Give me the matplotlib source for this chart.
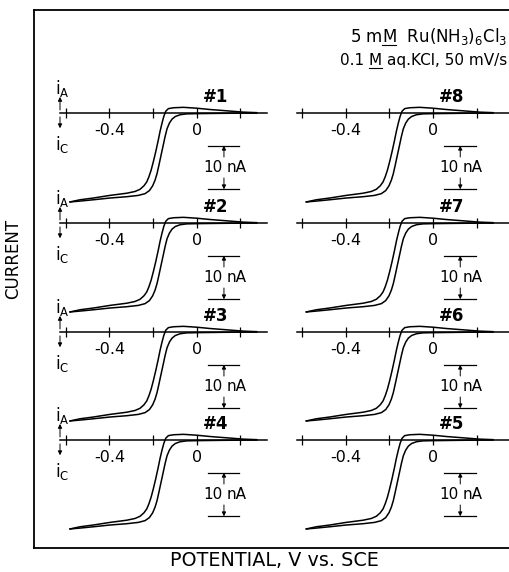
import matplotlib
matplotlib.use("Agg")
import matplotlib.pyplot as plt
from matplotlib.lines import Line2D

plt.rcParams["font.family"] = ["DejaVu Sans"]
plt.rcParams["mathtext.fontset"] = "dejavusans"

# ---------------- data ----------------
# upper branch of the voltammogram (potential V vs SCE, current nA)
upper_E = [-0.581, -0.535, -0.474, -0.398, -0.321, -0.283, -0.260, -0.242, -0.229,
           -0.219, -0.209, -0.199, -0.188, -0.177, -0.168, -0.159, -0.151, -0.142,
           -0.130, -0.107, -0.061, 0.000, 0.061, 0.138, 0.214, 0.275]
upper_i = [-20.4, -19.9, -19.5, -18.9, -18.4, -18.0, -17.5, -16.7, -15.8,
           -14.6, -13.1, -11.2, -8.9, -6.4, -4.2, -2.3, -0.8, 0.4,
           1.0, 1.2, 1.3, 1.1, 0.8, 0.5, 0.2, 0.08]
# lower branch
lower_E = [-0.581, -0.535, -0.474, -0.398, -0.321, -0.268, -0.237, -0.217, -0.202,
           -0.191, -0.182, -0.173, -0.164, -0.154, -0.145, -0.136, -0.125, -0.113,
           -0.098, -0.076, -0.046, 0.000, 0.107, 0.275]
lower_i = [-20.4, -20.2, -19.9, -19.5, -19.2, -18.9, -18.5, -17.8, -16.7,
           -15.4, -13.9, -11.9, -9.8, -7.5, -5.4, -3.6, -2.3, -1.4,
           -0.8, -0.4, -0.2, -0.15, -0.08, 0.0]

panel_labels = [["#1", "#2", "#3", "#4"], ["#8", "#7", "#6", "#5"]]
tick_values = [-0.6, -0.4, -0.2, 0.0, 0.2]
tick_labels = ["", "-0.4", "", "0", ""]
scale_nA = 10

# ---------------- layout ----------------
W, H = 510, 572
fig = plt.figure(figsize=(W / 100, H / 100), dpi=100)
fig.patch.set_facecolor("white")

PX_PER_V = 218.0
PX_PER_NA = 4.36
XLIM = (-0.65, 0.36)
YLIM = (-24.0, 8.0)
col_zero_px = [196.7, 433.0]
row_zero_px = [113, 223, 332, 440]
axis_bounds = [(-0.627, 0.322), (-0.624, 0.349)]

# outer frame (open on the right)
frame = fig.add_axes([34 / W, 24 / H, 1.2, 538 / H], zorder=0)
frame.set_xticks([]); frame.set_yticks([])
frame.patch.set_visible(False)
for s in ["left", "top", "bottom"]:
    frame.spines[s].set_linewidth(1.3)
frame.spines["right"].set_visible(False)

lw_curve = 1.1
for col in range(2):
    for row in range(4):
        x0 = col_zero_px[col] + PX_PER_V * XLIM[0]
        w = PX_PER_V * (XLIM[1] - XLIM[0])
        ytop = row_zero_px[row] - PX_PER_NA * YLIM[1]
        h = PX_PER_NA * (YLIM[1] - YLIM[0])
        ax = fig.add_axes([x0 / W, 1 - (ytop + h) / H, w / W, h / H], zorder=2)
        ax.set_xlim(*XLIM); ax.set_ylim(*YLIM)
        ax.patch.set_visible(False)
        for s in ["left", "right", "top"]:
            ax.spines[s].set_visible(False)
        ax.spines["bottom"].set_position(("data", 0))
        ax.spines["bottom"].set_bounds(*axis_bounds[col])
        ax.spines["bottom"].set_linewidth(1.1)
        ax.set_yticks([])
        ax.set_xticks(tick_values)
        ax.set_xticklabels(tick_labels)
        ax.tick_params(axis="x", direction="inout", length=7, width=0.9,
                       pad=4, labelsize=11.5)

        ax.plot(upper_E, upper_i, color="black", lw=lw_curve, solid_joinstyle="round")
        ax.plot(lower_E, lower_i, color="black", lw=lw_curve, solid_joinstyle="round")

        # panel number
        ax.text(0.085, 3.7, panel_labels[col][row], fontsize=12, ha="center",
                va="center", fontweight="bold")

        # 10 nA scale bar
        sb_top, sb_bot = -7.5, -7.5 - scale_nA
        sb_x0, sb_x1, sb_xa = 0.05, 0.195, 0.125
        ax.plot([sb_x0, sb_x1], [sb_top, sb_top], color="black", lw=0.9)
        ax.plot([sb_x0, sb_x1], [sb_bot, sb_bot], color="black", lw=0.9)
        ap = dict(arrowstyle="-|>", lw=0.7, color="black", mutation_scale=6,
                  shrinkA=0, shrinkB=0)
        ax.annotate("", xy=(sb_xa, sb_top), xytext=(sb_xa, sb_top - 2.6), arrowprops=ap)
        ax.annotate("", xy=(sb_xa, sb_bot), xytext=(sb_xa, sb_bot + 2.6), arrowprops=ap)
        mid = (sb_top + sb_bot) / 2
        ax.text(sb_xa - 0.008, mid, "10", fontsize=11, ha="right", va="center")
        ax.text(sb_xa + 0.01, mid, "nA", fontsize=11, ha="left", va="center")

        # i_A / i_C direction markers (left column only)
        if col == 0:
            ax.annotate("", xy=(-0.627, 3.7), xytext=(-0.627, 0.7), arrowprops=ap)
            ax.annotate("", xy=(-0.627, -3.5), xytext=(-0.627, -0.9), arrowprops=ap)
            ax.text(-0.652, 5.6, r"$\mathregular{i_A}$", fontsize=12, ha="left", va="center")
            ax.text(-0.652, -7.3, r"$\mathregular{i_C}$", fontsize=12, ha="left", va="center")

# axis titles
fig.text(13 / W, 1 - 259 / H, "CURRENT", rotation=90, fontsize=12,
         ha="center", va="center")
fig.text(274 / W, 1 - 560 / H, "POTENTIAL, V vs. SCE", fontsize=13.8,
         ha="center", va="center")

# conditions text with underlined M (molar)
renderer = fig.canvas.get_renderer()

def width_px(s, size):
    t = fig.text(0, 0, s, fontsize=size)
    bb = t.get_window_extent(renderer)
    t.remove()
    return bb.width

def cond_line(s, prefix_with_M, baseline_px, size=11):
    t = fig.text(507 / W, 1 - baseline_px / H, s, fontsize=size, ha="right",
                 va="baseline")
    bb = t.get_window_extent(renderer)
    xe = bb.x0 + width_px(prefix_with_M, size)
    xs = xe - width_px("M", size)
    yb = H - baseline_px - 2.5
    fig.add_artist(Line2D([xs / W, xe / W], [yb / H, yb / H],
                          transform=fig.transFigure, color="black", lw=0.8))

cond_line(r"5 mM  Ru(NH$_3$)$_6$Cl$_3$", "5 mM", 42, size=12)
cond_line("0.1 M aq.KCl, 50 mV/s", "0.1 M", 65, size=11)

fig.savefig("out.png", dpi=100, facecolor="white")
